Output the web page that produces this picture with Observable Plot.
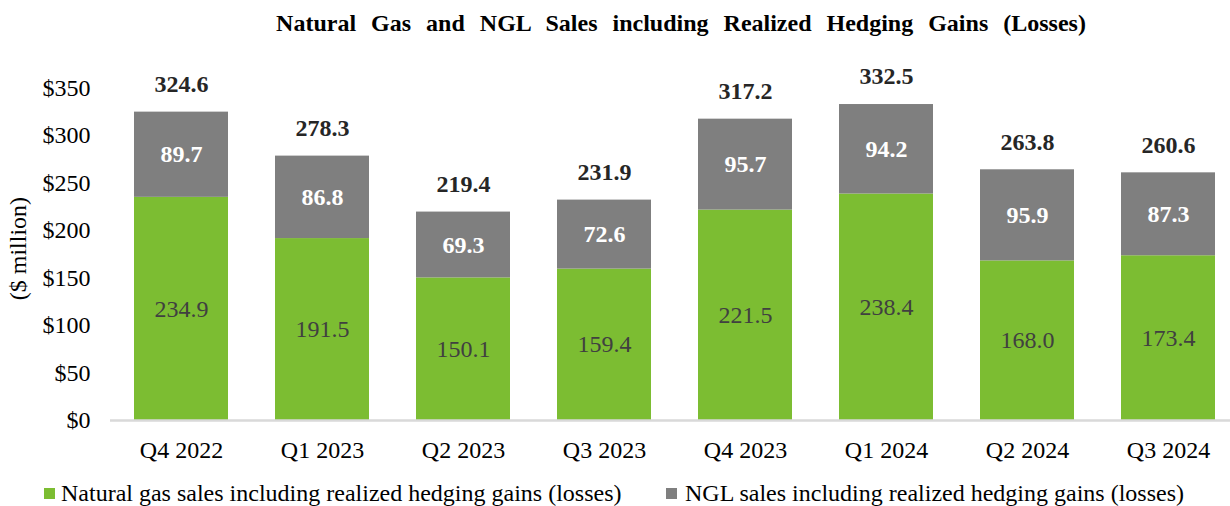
<!DOCTYPE html>
<html>
<head>
<meta charset="utf-8">
<script src="https://cdn.jsdelivr.net/npm/d3@7"></script>
<script src="https://cdn.jsdelivr.net/npm/@observablehq/plot@0.6"></script>
<style>
  html, body { margin: 0; padding: 0; background: #fff; }
  #wrap { position: relative; width: 1230px; height: 506px; overflow: hidden; font-family: "Liberation Serif", "Times New Roman", serif; }
  #title { position: absolute; left: 0; top: 0; width: 1230px; height: 46px; box-sizing: border-box; padding-left: 132px; text-align: center; font-weight: bold; font-size: 24px; line-height: 46px; word-spacing: 9px; color: #000; white-space: nowrap; }
  #chart { position: absolute; left: 0; top: 44px; }
  .leg { position: absolute; top: 479px; height: 28px; line-height: 28px; font-size: 24px; color: #000; white-space: nowrap; }
  .sw { position: absolute; width: 11px; height: 11px; top: 488px; }
</style>
</head>
<body>
<div id="wrap">
  <div id="title">Natural Gas and NGL Sales including Realized Hedging Gains (Losses)</div>
  <div id="chart"></div>
  <div class="sw" id="sw1"></div>
  <div class="leg" id="lg1"></div>
  <div class="sw" id="sw2"></div>
  <div class="leg" id="lg2"></div>
</div>
<script>
const quarters = ["Q4 2022","Q1 2023","Q2 2023","Q3 2023","Q4 2023","Q1 2024","Q2 2024","Q3 2024"];
const gasSales = [234.9,191.5,150.1,159.4,221.5,238.4,168.0,173.4];
const nglSales = [89.7,86.8,69.3,72.6,95.7,94.2,95.9,87.3];
const totals   = [324.6,278.3,219.4,231.9,317.2,332.5,263.8,260.6];
const seriesNames = ["Natural gas sales including realized hedging gains (losses)", "NGL sales including realized hedging gains (losses)"];
const yTicks = [0,50,100,150,200,250,300,350];
const colors = ["#7cbd32", "#7f7f7f"];

const rows = [];
quarters.forEach((q, i) => {
  rows.push({q, series: seriesNames[0], value: gasSales[i]});
  rows.push({q, series: seriesNames[1], value: nglSales[i]});
});
const totalRows = quarters.map((q, i) => ({q, total: totals[i]}));

const font = "Liberation Serif, Times New Roman, serif";

const chart = Plot.plot({
  width: 1230,
  height: 420,
  marginLeft: 110,
  marginRight: 0,
  marginTop: 43.5,
  marginBottom: 44,
  style: {fontFamily: font, fontSize: "24px", color: "#000", background: "transparent"},
  x: {domain: quarters, range: [110, 1239], paddingInner: 0.334, paddingOuter: 0.167, label: null},
  y: {domain: [0, 350], label: null},
  color: {domain: seriesNames, range: colors},
  marks: [
    Plot.axisY({ticks: yTicks, tickSize: 0, tickPadding: 20, tickFormat: d => "$" + d, fontSize: 24, label: null}),
    Plot.axisX({tickSize: 0, tickPadding: 20, fontSize: 24, label: null}),
    Plot.barY(rows, {x: "q", y: "value", fill: "series", order: seriesNames}),
    Plot.ruleY([0], {stroke: "#d9d9d9", strokeWidth: 2.5}),
    Plot.text(rows, Plot.stackY({x: "q", y: "value", z: "series", order: seriesNames,
      text: d => d.series === seriesNames[0] ? d.value.toFixed(1) : null,
      fill: "#404040", fontSize: 24})),
    Plot.text(rows, Plot.stackY({x: "q", y: "value", z: "series", order: seriesNames,
      text: d => d.series === seriesNames[1] ? d.value.toFixed(1) : null,
      fill: "#ffffff", fontWeight: "bold", fontSize: 24})),
    Plot.text(totalRows, {x: "q", y: "total", text: d => d.total.toFixed(1), dy: -28, fill: "#262626", fontWeight: "bold", fontSize: 24}),
    Plot.text(["($ million)"], {frameAnchor: "left", dx: -92, dy: 46, rotate: -90, text: d => d, fill: "#000", fontSize: 24})
  ]
});
document.getElementById("chart").appendChild(chart);

const sw1 = document.getElementById("sw1"), sw2 = document.getElementById("sw2");
sw1.style.left = "44px"; sw1.style.background = colors[0];
sw2.style.left = "666px"; sw2.style.background = colors[1];
const lg1 = document.getElementById("lg1"), lg2 = document.getElementById("lg2");
lg1.style.left = "61px"; lg1.textContent = seriesNames[0];
lg2.style.left = "685px"; lg2.textContent = seriesNames[1];
</script>
</body>
</html>
